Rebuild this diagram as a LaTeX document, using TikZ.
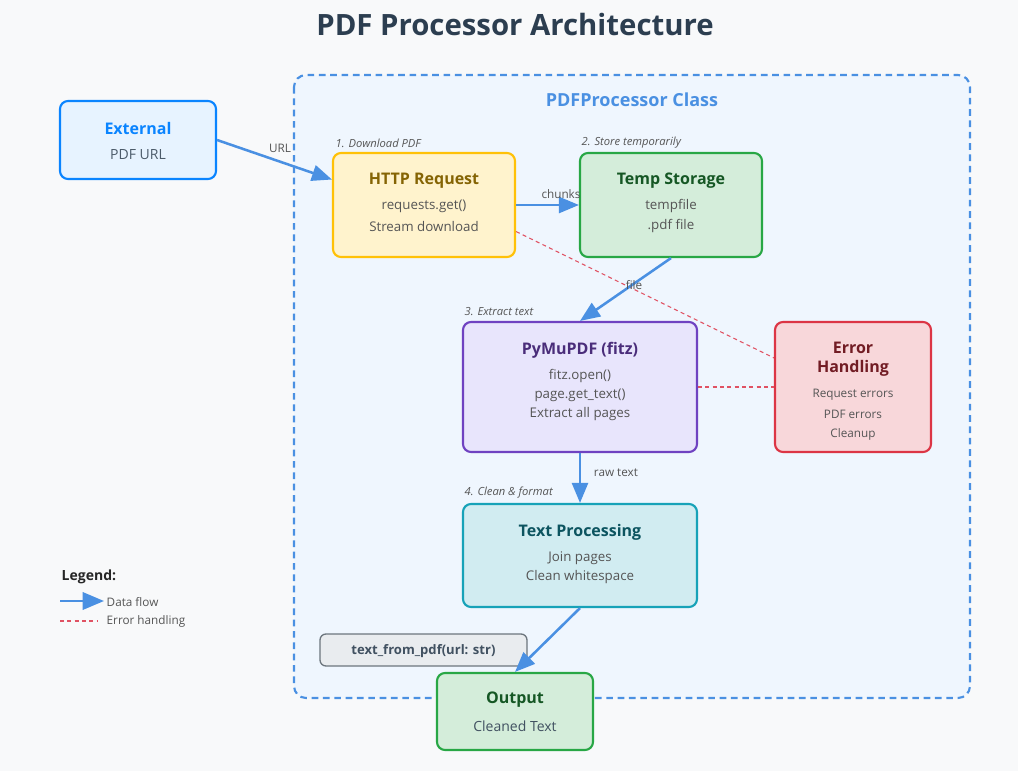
\documentclass[tikz,border=0pt]{standalone}
\usepackage{fontspec}
\setmainfont{Open Sans}
\usetikzlibrary{arrows.meta,calc}
\definecolor{bgc}{HTML}{F8F9FA}
\definecolor{contfill}{HTML}{EFF6FE}
\definecolor{flow}{HTML}{4A90E2}
\definecolor{titlec}{HTML}{2C3E50}
\definecolor{bodyc}{HTML}{555555}
\definecolor{extstroke}{HTML}{0A84FF}
\definecolor{extfill}{HTML}{E7F3FF}
\definecolor{httpstroke}{HTML}{FFC107}
\definecolor{httpfill}{HTML}{FFF3CD}
\definecolor{httptext}{HTML}{856404}
\definecolor{grnstroke}{HTML}{28A745}
\definecolor{grnfill}{HTML}{D4EDDA}
\definecolor{grntext}{HTML}{155724}
\definecolor{purstroke}{HTML}{6F42C1}
\definecolor{purfill}{HTML}{E8E5FC}
\definecolor{purtext}{HTML}{4A2D7A}
\definecolor{redstroke}{HTML}{DC3545}
\definecolor{redfill}{HTML}{F8D7DA}
\definecolor{redtext}{HTML}{721C24}
\definecolor{errline}{HTML}{E05263}
\definecolor{cynstroke}{HTML}{17A2B8}
\definecolor{cynfill}{HTML}{D1ECF1}
\definecolor{cyntext}{HTML}{0C5460}
\definecolor{grystroke}{HTML}{6C757D}
\definecolor{gryfill}{HTML}{E9ECEF}
\tikzset{
  box/.style={draw, rounded corners=6pt, line width=1.6pt, inner sep=0pt},
  ttl/.style={font=\bfseries\fontsize{12}{14}\selectfont},
  bod/.style={font=\fontsize{10}{12}\selectfont, text=bodyc},
  steplbl/.style={font=\itshape\fontsize{8.4}{10}\selectfont, text=bodyc, anchor=west},
  elbl/.style={font=\fontsize{8.8}{10}\selectfont, text=bodyc},
  flowarrow/.style={draw=flow, line width=1.9pt, -{Triangle[length=15pt,width=12pt]}},
  errdash/.style={draw=errline, line width=0.8pt, dash pattern=on 3pt off 2.5pt}
}
\begin{document}
\begin{tikzpicture}[x=0.75pt,y=-0.75pt]
\fill[bgc] (0,0) rectangle (1018,771);
\useasboundingbox (0,0) rectangle (1018,771);

\node[font=\bfseries\fontsize{22}{25}\selectfont, text=titlec] (title) at (515,25) {PDF Processor Architecture};

% container
\draw[flow, fill=contfill, line width=1.6pt, dash pattern=on 5pt off 3.5pt, rounded corners=9pt] (294,75) rectangle (970,698);
\node[font=\bfseries\fontsize{13.5}{16}\selectfont, text=flow] (ctitle) at (632,100) {PDFProcessor Class};

% boxes
\node[box, draw=extstroke, fill=extfill, minimum width=117pt, minimum height=58.5pt] (ext) at (138,140) {};
\node[box, draw=httpstroke, fill=httpfill, minimum width=136.5pt, minimum height=78pt] (http) at (424,205) {};
\node[box, draw=grnstroke, fill=grnfill, minimum width=136.5pt, minimum height=78pt] (temp) at (671,205) {};
\node[box, draw=purstroke, fill=purfill, minimum width=175.5pt, minimum height=97.5pt] (pymu) at (580,387) {};
\node[box, draw=redstroke, fill=redfill, minimum width=117pt, minimum height=97.5pt] (err) at (853,387) {};
\node[box, draw=cynstroke, fill=cynfill, minimum width=175.5pt, minimum height=77.25pt] (tproc) at (580,555.5) {};
\node[box, draw=grystroke, fill=gryfill, line width=1pt, rounded corners=4.5pt, minimum width=155.25pt, minimum height=24pt] (func) at (423.5,650) {};
\node[box, draw=grnstroke, fill=grnfill, minimum width=117pt, minimum height=57.75pt] (out) at (515,711.5) {};

% box texts
\node[ttl, text=extstroke] (extT) at (138,128) {External};
\node[bod, font=\fontsize{10.5}{12}\selectfont, text=titlec!85] (extB) at (138,155) {PDF URL};

\node[ttl, text=httptext] (httpT) at (424,181) {HTTP Request};
\node[bod] (httpB1) at (424,206) {requests.get()};
\node[bod] (httpB2) at (424,226) {Stream download};
\node[steplbl] (s1) at (331,143) {1. Download PDF};

\node[ttl, text=grntext] (tempT) at (671,181) {Temp Storage};
\node[bod] (tempB1) at (671,206) {tempfile};
\node[bod] (tempB2) at (671,226) {.pdf file};
\node[steplbl] (s2) at (577,143) {2. Store temporarily};

\node[ttl, text=purtext] (pymuT) at (580,350) {PyMuPDF (fitz)};
\node[bod] (pymuB1) at (580,376) {fitz.open()};
\node[bod] (pymuB2) at (580,395) {page.get\_text()};
\node[bod] (pymuB3) at (580,414) {Extract all pages};
\node[steplbl] (s3) at (460,312) {3. Extract text};

\node[ttl, text=redtext, align=center, font=\bfseries\fontsize{12}{14.3}\selectfont] (errT) at (853,359.5) {Error\\Handling};
\node[bod, font=\fontsize{8.8}{10}\selectfont] (errB1) at (853,395) {Request errors};
\node[bod, font=\fontsize{8.8}{10}\selectfont] (errB2) at (853,414) {PDF errors};
\node[bod, font=\fontsize{8.8}{10}\selectfont] (errB3) at (853,434) {Cleanup};

\node[ttl, text=cyntext] (tprocT) at (580,532) {Text Processing};
\node[bod] (tprocB1) at (580,558) {Join pages};
\node[bod] (tprocB2) at (580,577) {Clean whitespace};
\node[steplbl] (s4) at (460,493) {4. Clean \& format};

\node[font=\bfseries\fontsize{9.8}{11}\selectfont, text=titlec!90] (funcT) at (423.5,651) {text\_from\_pdf(url: str)};

\node[ttl, text=grntext] (outT) at (515,700) {Output};
\node[bod, font=\fontsize{10.5}{12}\selectfont, text=titlec!90] (outB) at (515,726) {Cleaned Text};

% connector endpoints
\coordinate (extOut) at (ext.east);
\coordinate (httpIn) at ($(http.north west)!0.26!(http.south west)$);
\coordinate (httpErr) at ($(http.north east)!0.75!(http.south east)$);
\coordinate (errIn) at ($(err.north west)!0.28!(err.south west)$);

% error lines
\draw[errdash] (httpErr) -- (errIn);
\draw[errdash] (pymu.east) -- (err.west);

% data flow
\draw[flowarrow] (extOut) -- (httpIn);
\draw[flowarrow] (http.east) -- (temp.west);
\draw[flowarrow] (temp.south) -- (pymu.north);
\draw[flowarrow] (pymu.south) -- (tproc.north);
\draw[flowarrow] (tproc.south) -- (out.north);

% edge labels
\node[elbl] (lurl) at (280,148) {URL};
\node[elbl] (lchunks) at (561,194) {chunks};
\node[elbl] (lfile) at (634,285) {file};
\node[elbl] (lraw) at (616,473) {raw text};

% legend
\node[font=\bfseries\fontsize{10.5}{12}\selectfont, text=black!85, anchor=west] (legT) at (57,577) {Legend:};
\coordinate (lgA) at (60,601);
\coordinate (lgB) at (104,601);
\draw[draw=flow, line width=1.9pt, -{Triangle[length=16pt,width=13pt]}] (lgA) -- (lgB);
\node[elbl, anchor=west] (lg1) at (102,602) {Data flow};
\coordinate (lgC) at (60,621);
\coordinate (lgD) at (97,621);
\draw[errdash] (lgC) -- (lgD);
\node[elbl, anchor=west] (lg2) at (102,621) {Error handling};
\end{tikzpicture}
\end{document}
